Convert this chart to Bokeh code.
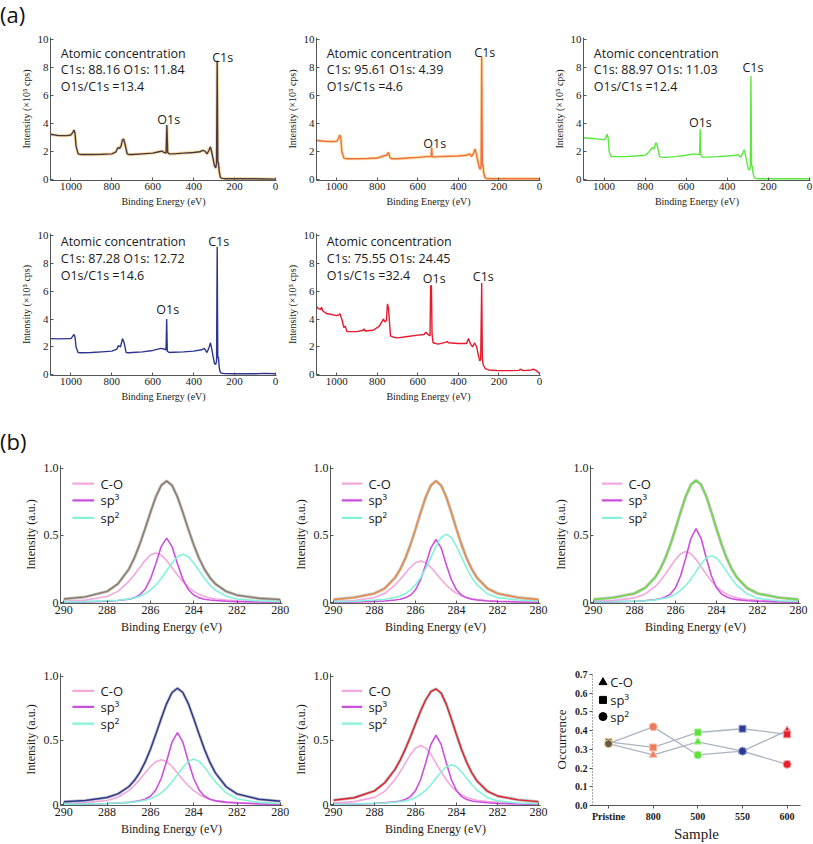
from bokeh.plotting import figure
from bokeh.models import Range1d, FixedTicker, Div, PrintfTickFormatter
from bokeh.layouts import column, row
from bokeh.core.properties import value
from bokeh.embed import file_html
from bokeh.resources import INLINE

# ---------------- data: (a) survey spectra ----------------
survey_x_ticks = [1000, 800, 600, 400, 200, 0]
survey_y_ticks = [0, 2, 4, 6, 8, 10]

x_pristine = [1100,1060,1020,1000,990,985,980,975,965,950,900,850,800,780,770,762,755,748,742,735,725,715,700,650,600,570,555,545,535,531,527,520,500,450,400,370,355,345,335,325,318,312,305,298,292,288,285,282,279,275,270,265,258,250,200,150,100,50,0]
y_pristine = [3.25,3.15,3.15,3.2,3.4,3.55,3.3,2.4,1.85,1.8,1.8,1.82,1.85,2.0,2.3,2.25,2.4,2.85,2.9,2.5,1.85,1.8,1.8,1.85,1.9,2.0,2.05,1.95,1.9,3.9,1.95,1.85,1.85,1.9,1.95,2.0,2.1,2.05,1.85,2.1,2.35,2.0,1.5,1.0,0.85,1.2,8.5,1.3,1.2,0.6,0.2,0.12,0.1,0.08,0.08,0.08,0.07,0.06,0.05]

x_800 = [1100,1060,1020,1000,990,985,980,975,965,950,900,850,800,770,755,745,738,730,700,650,600,560,540,535,532,529,520,500,450,400,360,345,335,325,318,312,305,298,292,288,285,282,279,275,270,265,258,250,200,150,100,50,0]
y_800 = [2.8,2.75,2.72,2.75,3.0,3.2,3.0,2.0,1.55,1.5,1.5,1.52,1.55,1.7,1.75,1.95,1.6,1.5,1.5,1.55,1.6,1.65,1.65,1.65,2.3,1.65,1.62,1.65,1.68,1.7,1.75,1.85,1.65,1.9,2.2,1.9,1.4,0.9,0.75,1.0,8.8,1.0,1.1,0.5,0.2,0.1,0.09,0.08,0.08,0.08,0.08,0.08,0.07]

x_500 = [1100,1060,1020,1000,990,985,980,975,965,950,900,850,800,780,765,757,748,740,730,715,700,650,600,560,545,535,532,529,520,500,450,400,360,348,335,325,318,312,305,298,292,288,285,282,279,275,270,265,258,250,200,150,100,50,0]
y_500 = [3.0,2.95,2.9,2.85,3.0,3.25,3.0,2.0,1.65,1.65,1.65,1.7,1.75,2.0,2.3,2.2,2.65,2.4,1.65,1.6,1.6,1.65,1.75,1.85,1.8,1.8,3.6,1.8,1.6,1.62,1.65,1.7,1.75,1.8,1.6,1.9,2.15,1.8,1.3,0.75,0.7,0.9,7.4,1.0,1.0,0.5,0.2,0.1,0.09,0.08,0.08,0.08,0.08,0.08,0.08]

x_550 = [1100,1060,1020,1000,990,985,980,975,965,950,900,850,800,775,768,758,748,740,730,715,700,650,600,560,545,535,532,529,520,500,450,400,360,348,335,325,318,312,305,298,292,288,285,282,279,275,270,265,258,250,200,150,100,50,0]
y_550 = [2.6,2.58,2.6,2.6,2.8,2.9,2.7,2.0,1.6,1.58,1.6,1.65,1.7,1.85,2.1,2.0,2.6,2.3,1.6,1.58,1.6,1.65,1.75,1.9,1.85,1.8,4.0,1.7,1.6,1.62,1.65,1.7,1.8,1.9,1.6,1.95,2.3,1.9,1.3,0.8,0.75,1.0,9.2,1.2,1.3,0.5,0.2,0.12,0.1,0.09,0.08,0.08,0.08,0.1,0.08]

x_600 = [1100,1090,1080,1075,1070,1050,1000,990,985,975,965,958,950,900,870,865,860,820,790,770,762,755,750,745,735,720,700,650,600,570,560,550,540,537,533,530,525,500,460,455,450,400,360,350,340,330,320,310,300,295,290,285,282,279,275,268,250,200,150,100,95,80,40,30,15,0]
y_600 = [4.9,4.75,4.7,4.85,4.6,4.4,4.25,4.3,4.4,4.0,3.4,3.5,3.1,3.1,3.2,3.3,3.15,3.2,3.5,4.0,3.8,3.9,5.1,4.8,2.8,2.7,2.65,2.75,2.85,2.9,3.05,2.9,2.8,6.4,6.4,2.9,2.3,2.2,2.35,2.4,2.3,2.25,2.25,2.6,2.2,2.0,2.3,2.0,1.3,1.0,1.1,6.6,1.3,0.8,0.65,0.45,0.35,0.3,0.3,0.32,0.4,0.3,0.35,0.4,0.3,0.1]

conc_pristine = ["Atomic concentration", "C1s: 88.16  O1s: 11.84", "O1s/C1s =13.4"]
conc_800 = ["Atomic concentration", "C1s: 95.61  O1s: 4.39", "O1s/C1s =4.6"]
conc_500 = ["Atomic concentration", "C1s: 88.97  O1s: 11.03", "O1s/C1s =12.4"]
conc_550 = ["Atomic concentration", "C1s: 87.28  O1s: 12.72", "O1s/C1s =14.6"]
conc_600 = ["Atomic concentration", "C1s: 75.55  O1s: 24.45", "O1s/C1s =32.4"]

# ---------------- data: (b) C1s fits ----------------
be = [290, 289, 288, 287.5, 287, 286.75, 286.5, 286.25, 286, 285.75, 285.5, 285.25, 285, 284.75, 284.5, 284.25, 284, 283.75, 283.5, 283.25, 283, 282.5, 282, 281, 280]
be_ticks = [290, 288, 286, 284, 282, 280]

co_pristine  = [.011,.019,.046,.084,.157,.206,.260,.314,.354,.370,.354,.314,.260,.206,.157,.115,.084,.062,.046,.035,.028,.019,.015,.009,.007]
sp3_pristine = [.004,.006,.011,.016,.026,.036,.057,.098,.175,.290,.417,.480,.417,.290,.175,.098,.057,.036,.026,.020,.016,.011,.008,.005,.003]
sp2_pristine = [.006,.008,.014,.018,.027,.035,.047,.066,.094,.131,.180,.238,.295,.342,.360,.342,.295,.238,.180,.131,.094,.047,.027,.014,.008]
tot_pristine = [.027,.043,.084,.140,.248,.329,.430,.547,.671,.786,.872,.905,.872,.786,.671,.547,.430,.329,.248,.186,.140,.084,.056,.033,.023]

co_800  = [.009,.016,.038,.070,.131,.172,.218,.263,.297,.310,.297,.263,.218,.172,.131,.096,.070,.052,.038,.029,.023,.016,.013,.008,.006]
sp3_800 = [.003,.005,.009,.013,.020,.025,.036,.055,.096,.171,.284,.408,.470,.408,.284,.171,.096,.055,.036,.025,.020,.013,.009,.005,.003]
sp2_800 = [.008,.011,.020,.026,.038,.050,.067,.093,.133,.186,.255,.337,.418,.485,.510,.485,.418,.337,.255,.186,.133,.067,.038,.020,.011]
tot_800 = [.024,.038,.069,.107,.186,.248,.329,.430,.547,.671,.786,.872,.905,.872,.786,.671,.547,.430,.329,.248,.186,.107,.069,.038,.024]

co_500  = [.011,.017,.036,.063,.119,.161,.211,.267,.322,.364,.380,.364,.322,.267,.211,.161,.119,.087,.063,.047,.036,.024,.017,.011,.007]
sp3_500 = [.004,.006,.011,.015,.023,.029,.042,.064,.112,.200,.332,.477,.550,.477,.332,.200,.112,.064,.042,.029,.023,.015,.011,.006,.004]
sp2_500 = [.005,.007,.012,.015,.021,.027,.034,.046,.064,.091,.127,.175,.231,.287,.333,.350,.333,.287,.231,.175,.127,.064,.034,.015,.009]
tot_500 = [.024,.038,.069,.108,.187,.249,.331,.432,.550,.674,.791,.877,.910,.877,.791,.674,.550,.432,.331,.249,.187,.108,.069,.038,.024]

co_550  = [.010,.016,.033,.058,.110,.148,.194,.246,.297,.335,.350,.335,.297,.246,.194,.148,.110,.080,.058,.043,.033,.022,.016,.010,.006]
sp3_550 = [.004,.005,.009,.013,.018,.024,.030,.043,.066,.115,.204,.338,.487,.560,.487,.338,.204,.115,.066,.043,.030,.018,.013,.007,.004]
sp2_550 = [.005,.007,.010,.013,.018,.022,.027,.035,.047,.065,.092,.129,.178,.234,.291,.337,.355,.337,.291,.234,.178,.092,.047,.018,.010]
tot_550 = [.023,.033,.056,.084,.140,.186,.248,.329,.430,.547,.671,.786,.872,.905,.872,.786,.671,.547,.430,.329,.248,.140,.084,.043,.027]

co_600  = [.014,.024,.057,.104,.195,.256,.323,.390,.440,.460,.440,.390,.323,.256,.195,.143,.104,.077,.057,.044,.035,.024,.019,.011,.009]
sp3_600 = [.003,.006,.010,.015,.023,.029,.041,.063,.110,.196,.326,.469,.540,.469,.326,.196,.110,.063,.041,.029,.023,.015,.010,.006,.003]
sp2_600 = [.004,.006,.011,.013,.019,.024,.030,.041,.057,.081,.113,.155,.205,.254,.295,.310,.295,.254,.205,.155,.113,.057,.030,.013,.008]
tot_600 = [.035,.054,.108,.171,.275,.347,.432,.527,.630,.729,.816,.880,.900,.868,.782,.667,.544,.428,.328,.247,.185,.106,.068,.038,.024]

component_names = ["C-O", "sp³", "sp²"]

# ---------------- data: occurrence ----------------
samples = ["Pristine", "800", "500", "550", "600"]
occ_co  = [0.33, 0.27, 0.34, 0.29, 0.40]
occ_sp3 = [0.34, 0.31, 0.39, 0.41, 0.38]
occ_sp2 = [0.33, 0.42, 0.27, 0.29, 0.22]
occ_ticks = [0.0, 0.1, 0.2, 0.3, 0.4, 0.5, 0.6, 0.7]

# ---------------- styling ----------------
SERIF = "Liberation Serif"
SANS = "Open Sans"
AXC = "#555555"
TXT = "#1a1a1a"
C_CO = "#f2a8dc"
C_SP3 = "#cc4fe0"
C_SP2 = "#84f2da"
ENV = "#b4b4b4"
sample_colors = ["#6a5848", "#f07a5e", "#5fe03a", "#2e3a92", "#e8202c"]
sample_halo = ["#f1d9a0", "#f9c0a8", "#b8f5a0", "#a0a8d8", "#f5a0a8"]


def make_fig(w, h, bl, br, bt, bb, xr, yr):
    p = figure(width=w, height=h, x_range=Range1d(*xr), y_range=Range1d(*yr),
               output_backend="svg", toolbar_location=None,
               min_border_left=bl, min_border_right=br,
               min_border_top=bt, min_border_bottom=bb)
    p.outline_line_color = None
    p.xgrid.visible = False
    p.ygrid.visible = False
    p.background_fill_color = "white"
    p.border_fill_color = "white"
    for ax in (p.xaxis[0], p.yaxis[0]):
        ax.axis_line_color = AXC
        ax.major_tick_line_color = AXC
        ax.major_tick_in = 3
        ax.major_tick_out = 0
        ax.minor_tick_line_color = None
        ax.major_label_text_font = SERIF
        ax.major_label_text_color = TXT
        ax.axis_label_text_font = SERIF
        ax.axis_label_text_font_style = "normal"
        ax.axis_label_text_color = TXT
        ax.major_label_standoff = 2
        ax.axis_label_standoff = 3
    return p


def survey_panel(xs, ys, col, halo, conc, o_xy, c_xy, ty, xr, w, h, bl, br, bt, bb):
    p = make_fig(w, h, bl, br, bt, bb, xr, (-0.05, 10.15))
    p.xaxis.ticker = FixedTicker(ticks=survey_x_ticks)
    p.yaxis.ticker = FixedTicker(ticks=survey_y_ticks)
    p.xaxis.axis_label = "Binding Energy (eV)"
    p.yaxis.axis_label = "Intensity (×10⁵ cps)"
    p.xaxis.major_label_text_font_size = "11px"
    p.yaxis.major_label_text_font_size = "11px"
    p.xaxis.axis_label_text_font_size = "10px"
    p.yaxis.axis_label_text_font_size = "10px"
    if halo:
        p.line(xs, ys, line_color=halo, line_width=3.2, line_alpha=0.9)
    p.line(xs, ys, line_color=col, line_width=1.4)
    p.text(x=[1050] * 3, y=ty, text=conc, text_font=value(SANS), text_font_size="12.5px",
           text_color=TXT, text_align="left", text_baseline="middle")
    p.text(x=[o_xy[0], c_xy[0]], y=[o_xy[1], c_xy[1]], text=["O1s", "C1s"],
           text_font=value(SANS), text_font_size="12.5px", text_color=TXT,
           text_align="center", text_baseline="middle")
    return p


def fit_panel(co, sp3, sp2, tot, col, w, h, bl, br, bt, bb):
    p = make_fig(w, h, bl, br, bt, bb, (290.15, 279.9), (-0.006, 1.02))
    p.xaxis.ticker = FixedTicker(ticks=be_ticks)
    p.yaxis.ticker = FixedTicker(ticks=[0, 0.5, 1])
    p.yaxis.major_label_overrides = {0: "0", 0.5: "0.5", 1: "1.0"}
    p.xaxis.axis_label = "Binding Energy (eV)"
    p.yaxis.axis_label = "Intensity (a.u.)"
    p.xaxis.major_label_text_font_size = "12px"
    p.yaxis.major_label_text_font_size = "12px"
    p.xaxis.axis_label_text_font_size = "12px"
    p.yaxis.axis_label_text_font_size = "12px"
    p.line(be, co, line_color=C_CO, line_width=1.6)
    p.line(be, sp3, line_color=C_SP3, line_width=1.6)
    p.line(be, sp2, line_color=C_SP2, line_width=1.6)
    p.line(be, tot, line_color=ENV, line_width=3.0, line_alpha=0.85)
    p.line(be, tot, line_color=col, line_width=1.4)
    ly = [0.885, 0.76, 0.63]
    p.segment(x0=[289.6] * 3, y0=ly, x1=[288.6] * 3, y1=ly,
              line_color=[C_CO, C_SP3, C_SP2], line_width=2.2)
    p.text(x=[288.3] * 3, y=ly, text=component_names, text_font=value(SANS),
           text_font_size="13px", text_color=TXT, text_align="left", text_baseline="middle")
    return p


# ---------------- (a) ----------------
RY1 = [9.0, 7.85, 6.65]
RY2 = [9.55, 8.35, 7.1]
XR = (1100, -5)
a1 = survey_panel(x_pristine, y_pristine, "#4a3a44", "#f6d89a", conc_pristine, (522, 4.3), (258, 8.7), RY1, XR,
                  283, 188, 50, 7, 9, 36)
a2 = survey_panel(x_800, y_800, "#f0703e", "#fbe0a6", conc_800, (517, 2.6), (270, 9.05), RY1, XR,
                  267, 188, 28, 10, 9, 36)
a3 = survey_panel(x_500, y_500, "#5ae83c", None, conc_500, (531, 4.1), (275, 8.0), RY1, XR,
                  263, 188, 31, 3, 9, 36)
a4 = survey_panel(x_550, y_550, "#2c3590", None, conc_550, (527, 4.7), (278, 9.57), RY2, XR,
                  283, 195, 50, 7, 17, 36)
a5 = survey_panel(x_600, y_600, "#e8192c", None, conc_600, (519, 6.9), (277, 7.05), RY2, XR,
                  267, 195, 28, 10, 17, 36)

# ---------------- (b) ----------------
b1 = fit_panel(co_pristine, sp3_pristine, sp2_pristine, tot_pristine, "#8c7a68", 290, 185, 60, 8, 10, 37)
b2 = fit_panel(co_800, sp3_800, sp2_800, tot_800, "#f08a3c", 260, 185, 31, 10, 10, 37)
b3 = fit_panel(co_500, sp3_500, sp2_500, tot_500, "#66e03a", 263, 185, 30, 13, 10, 37)
b4 = fit_panel(co_550, sp3_550, sp2_550, tot_550, "#2c3590", 290, 204, 60, 8, 32, 33)
b5 = fit_panel(co_600, sp3_600, sp2_600, tot_600, "#e0202c", 260, 204, 31, 10, 32, 33)

# occurrence panel
xpos = list(range(len(samples)))
b6 = make_fig(263, 204, 32, 13, 33, 36, (-0.36, 4.3), (0, 0.705))
b6.xaxis.ticker = FixedTicker(ticks=xpos)
b6.xaxis.major_label_overrides = {i: s for i, s in enumerate(samples)}
b6.yaxis.ticker = FixedTicker(ticks=occ_ticks)
b6.yaxis.formatter = PrintfTickFormatter(format="%.1f")
b6.yaxis.axis_line_dash = "1 2"
b6.yaxis.major_tick_in = 0
b6.yaxis.major_tick_out = 3
b6.xaxis.major_tick_in = 0
b6.xaxis.major_tick_out = 3
b6.xaxis.axis_label = "Sample"
b6.yaxis.axis_label = "Occurrence"
b6.xaxis.major_label_text_font_size = "10px"
b6.yaxis.major_label_text_font_size = "10px"
b6.xaxis.major_label_text_font_style = "bold"
b6.yaxis.major_label_text_font_style = "bold"
b6.xaxis.axis_label_text_font_size = "15px"
b6.yaxis.axis_label_text_font_size = "13px"
b6.xaxis.axis_label_standoff = 1
LINEC = "#a9b6c2"
for vals, mk, sz in ((occ_co, "triangle", 8), (occ_sp3, "square", 7), (occ_sp2, "circle", 8)):
    b6.line(xpos, vals, line_color=LINEC, line_width=1.3)
    b6.scatter(xpos, vals, marker=mk, size=sz, fill_color=sample_colors,
               line_color=sample_halo, line_width=1)
leg_y = [0.658, 0.564, 0.475]
b6.scatter([-0.125], [leg_y[0]], marker="triangle", size=8, color="black")
b6.scatter([-0.125], [leg_y[1]], marker="square", size=7, color="black")
b6.scatter([-0.125], [leg_y[2]], marker="circle", size=8, color="black")
b6.text(x=[0.04] * 3, y=leg_y, text=component_names, text_font=value(SANS),
        text_font_size="13px", text_color=TXT, text_align="left", text_baseline="middle")

# ---------------- layout ----------------
div_a = Div(text='<div style="font-family:\'Open Sans\';font-size:22px;line-height:26px;padding-top:1px;color:#111;">(a)</div>',
            width=813, height=28, margin=0)
div_b = Div(text='<div style="font-family:\'Open Sans\';font-size:22px;line-height:26px;margin-top:17px;color:#111;">(b)</div>',
            width=813, height=44, margin=0)

layout = column(div_a, row(a1, a2, a3), row(a4, a5), div_b, row(b1, b2, b3), row(b4, b5, b6))

open("out.html", "w").write(file_html(layout, INLINE))
